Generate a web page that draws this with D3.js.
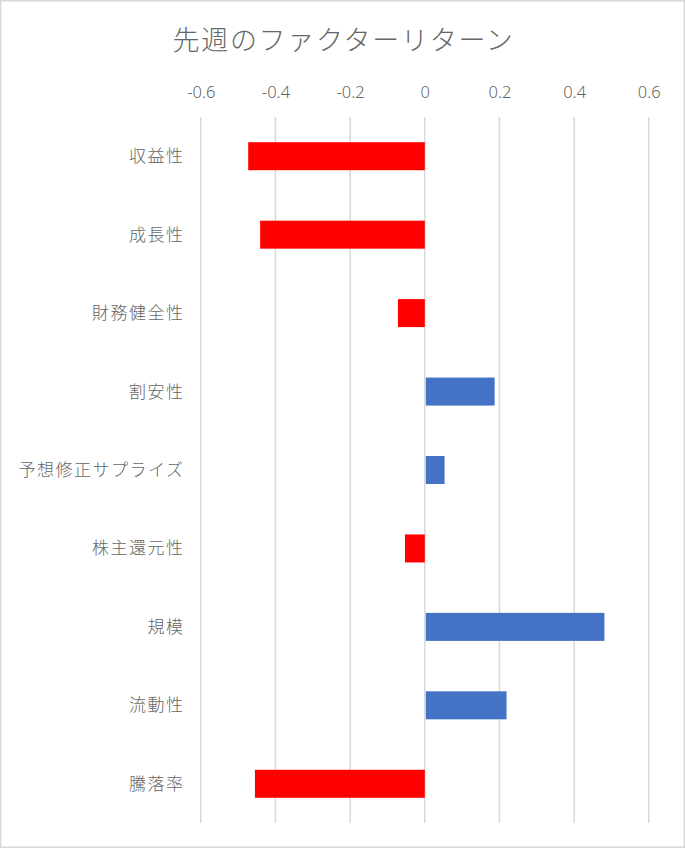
<!DOCTYPE html>
<html><head><meta charset="utf-8">
<script src="https://cdn.jsdelivr.net/npm/d3@7"></script>
<style>
html,body{margin:0;padding:0;background:#fff;}
svg{display:block;font-family:"Noto Sans CJK JP","Noto Sans",sans-serif;}
</style></head>
<body>
<svg id="chart" width="685" height="848"></svg>
<script>
const title = "先週のファクターリターン";
const categories = ["収益性","成長性","財務健全性","割安性","予想修正サプライズ","株主還元性","規模","流動性","騰落率"];
const values = [-0.473, -0.441, -0.072, 0.187, 0.053, -0.053, 0.481, 0.219, -0.455];
const tickValues = [-0.6, -0.4, -0.2, 0, 0.2, 0.4, 0.6];
const tickLabels = ["-0.6","-0.4","-0.2","0","0.2","0.4","0.6"];

const svg = d3.select("#chart");
const W = 685, H = 848;

svg.append("rect").attr("x",0.75).attr("y",0.75).attr("width",W-1.5).attr("height",H-1.5)
  .attr("fill","#fff").attr("stroke","#d9d9d9").attr("stroke-width",1.5);

const x = d3.scaleLinear().domain([-0.6,0.6]).range([200.8,648.8]);
const y = d3.scaleBand().domain(categories).range([117,823]).paddingInner(0.643).paddingOuter(0.3215);

// gridlines
svg.append("g").selectAll("line").data(tickValues).join("line")
  .attr("x1",d=>x(d)).attr("x2",d=>x(d)).attr("y1",117).attr("y2",823)
  .attr("stroke","#d9d9d9").attr("stroke-width",1.5);

// top axis labels
const ax = svg.append("g").attr("transform","translate(0,98)")
  .call(d3.axisTop(x).tickValues(tickValues).tickSize(0).tickPadding(0)
    .tickFormat((d,i)=>tickLabels[i]));
ax.select(".domain").remove();
ax.selectAll("text").attr("fill","#666666").attr("font-size",16.5).attr("dy",0)
  .attr("font-family","'Noto Sans','Noto Sans CJK JP',sans-serif").attr("font-weight",300);

// bars
svg.append("g").selectAll("rect").data(categories).join("rect")
  .attr("x",(d,i)=>values[i]>0 ? x(0)+1 : x(values[i]))
  .attr("width",(d,i)=>values[i]>0 ? x(values[i])-x(0)-1 : x(0)-x(values[i]))
  .attr("y",d=>y(d)).attr("height",y.bandwidth())
  .attr("fill",(d,i)=>values[i]<0?"#ff0000":"#4472c4");

// category labels
svg.append("g").selectAll("text").data(categories).join("text")
  .attr("x",184.5).attr("y",d=>y(d)+y.bandwidth()/2+6)
  .attr("text-anchor","end").attr("font-size",17).attr("letter-spacing",1.5)
  .attr("fill","#666666").attr("font-weight",300).text(d=>d);

// title
svg.append("text").attr("x",W/2+1).attr("y",50).attr("text-anchor","middle")
  .attr("font-size",27).attr("letter-spacing",1.7).attr("font-weight",300)
  .attr("fill","#666666").text(title);
</script>
</body></html>
